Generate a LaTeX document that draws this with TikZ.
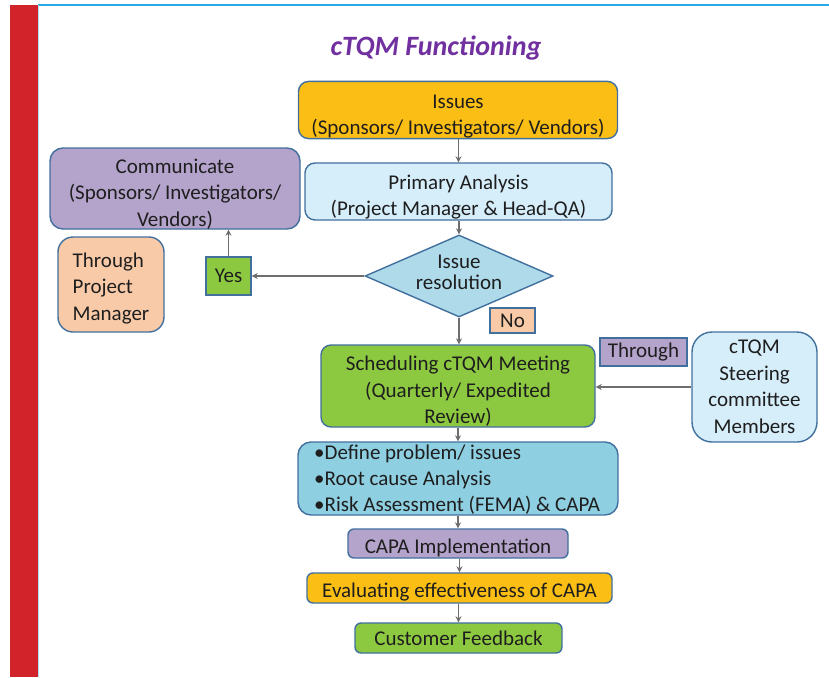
\documentclass[tikz,border=0pt]{standalone}
\usepackage{fontspec}
\setmainfont{Carlito}
\usetikzlibrary{shapes.geometric,arrows.meta}
\definecolor{cOrange}{HTML}{FBBE14}
\definecolor{cLBlue}{HTML}{D6EDFA}
\definecolor{cPurple}{HTML}{B4A3CB}
\definecolor{cPeach}{HTML}{F9CAA8}
\definecolor{cGreen}{HTML}{8DC940}
\definecolor{cDiam}{HTML}{AEDAEA}
\definecolor{cDef}{HTML}{8FCFE2}
\definecolor{cBorder}{HTML}{41709E}
\definecolor{cRed}{HTML}{D2232A}
\definecolor{cLine}{HTML}{29A9E1}
\definecolor{cTitle}{HTML}{7030A0}
\definecolor{cText}{HTML}{1E1E1E}
\definecolor{cArrow}{HTML}{6E6E6E}
\newcommand{\lowr}[1]{\rule{0pt}{#1}}
\begin{document}
\begin{tikzpicture}[x=1pt,y=-1pt,
  box/.style={draw=cBorder,line width=1.4pt,rounded corners=10pt,inner sep=0pt,
    align=center,text=cText,font=\fontsize{21}{26.5}\selectfont},
  sqbox/.style={box,rounded corners=0pt},
  conn/.style={draw=cArrow,line width=1.3pt,-{Stealth[length=6pt,width=6pt,fill=black!80]}}]
\useasboundingbox (0,0) rectangle (829,677);
\fill[white] (0,0) rectangle (829,677);
\fill[cRed] (10,5) rectangle (38,677);
\draw[cLine,line width=1.2pt] (38,5) -- (829,5);
\draw[cLine!40,line width=0.8pt] (38.5,5) -- (38.5,677);

\node (title) at (436,48) {\fontsize{28}{32}\selectfont\bfseries\itshape\color{cTitle}cTQM Functioning};

\node[box,fill=cOrange,minimum width=319pt,minimum height=56pt] (issues) at (458,110)
  {\lowr{27pt}Issues\\(Sponsors/ Investigators/ Vendors)};
\node[box,fill=cLBlue,minimum width=307pt,minimum height=57pt] (primary) at (458.5,191.5)
  {\lowr{26pt}Primary Analysis\\(Project Manager \& Head-QA)};
\node[box,fill=cPurple,minimum width=250pt,minimum height=81pt,rounded corners=13pt] (comm) at (175,188.5)
  {\lowr{25pt}Communicate\\(Sponsors/ Investigators/\\Vendors)};
\node[box,fill=cPeach,minimum width=106pt,minimum height=95pt,rounded corners=15pt,align=left] (tpm) at (111,284.5)
  {\lowr{22pt}Through\\Project\\Manager};
\node[sqbox,fill=cGreen,minimum width=45pt,minimum height=38pt] (yes) at (228.5,276) {Yes};
\node[diamond,draw=cBorder,line width=1.4pt,fill=cDiam,inner sep=0pt,minimum width=188pt,minimum height=82pt,
  label={[align=center,text=cText,font=\fontsize{21}{21}\selectfont,yshift=4pt]center:Issue\\resolution}] (dia) at (459,276) {};
\node[sqbox,fill=cPeach,minimum width=45pt,minimum height=25pt] (no) at (512.5,320.5) {No};
\node[box,fill=cGreen,minimum width=274pt,minimum height=82pt] (sched) at (458,386)
  {\lowr{25pt}Scheduling cTQM Meeting\\(Quarterly/ Expedited\\Review)};
\node[sqbox,fill=cPurple,minimum width=87pt,minimum height=28pt] (through) at (643.5,352) {Through};
\node[box,fill=cLBlue,minimum width=125pt,minimum height=110pt,rounded corners=20pt] (steer) at (754.5,387)
  {cTQM\\Steering\\committee\\Members};
\node[box,fill=cDef,minimum width=320pt,minimum height=73pt,rounded corners=13pt] (define) at (458,478.5) {};
\node[anchor=west,align=left,text=cText,font=\fontsize{21}{26}\selectfont,inner sep=0pt] (deftext) at (314,479.5)
  {•Define problem/ issues\\•Root cause Analysis\\•Risk Assessment (FEMA) \& CAPA};
\node[box,fill=cPurple,minimum width=220pt,minimum height=29pt,rounded corners=6pt] (capa) at (458,543.5) {\lowr{23pt}CAPA Implementation};
\node[box,fill=cOrange,minimum width=305pt,minimum height=30pt,rounded corners=6pt] (eval) at (459.5,588) {\lowr{23pt}Evaluating effectiveness of CAPA};
\node[box,fill=cGreen,minimum width=207pt,minimum height=30pt,rounded corners=6pt] (cust) at (458.5,638) {Customer Feedback};

\draw[conn] (issues.south -| primary.north) -- (primary.north);
\draw[conn] (primary.south -| dia.north) -- (dia.north);
\draw[conn] (dia.west) -- (yes.east |- dia.west);
\draw[conn] (yes.north) -- (yes.north |- comm.south);
\draw[conn] (dia.south) -- (dia.south |- sched.north);
\draw[conn] (steer.west) -- (sched.east |- steer.west);
\draw[conn] (sched.south -| define.north) -- (define.north);
\draw[conn] (define.south -| capa.north) -- (capa.north);
\draw[conn] (capa.south -| eval.north) -- (eval.north);
\draw[conn] (eval.south -| cust.north) -- (cust.north);
\end{tikzpicture}
\end{document}
